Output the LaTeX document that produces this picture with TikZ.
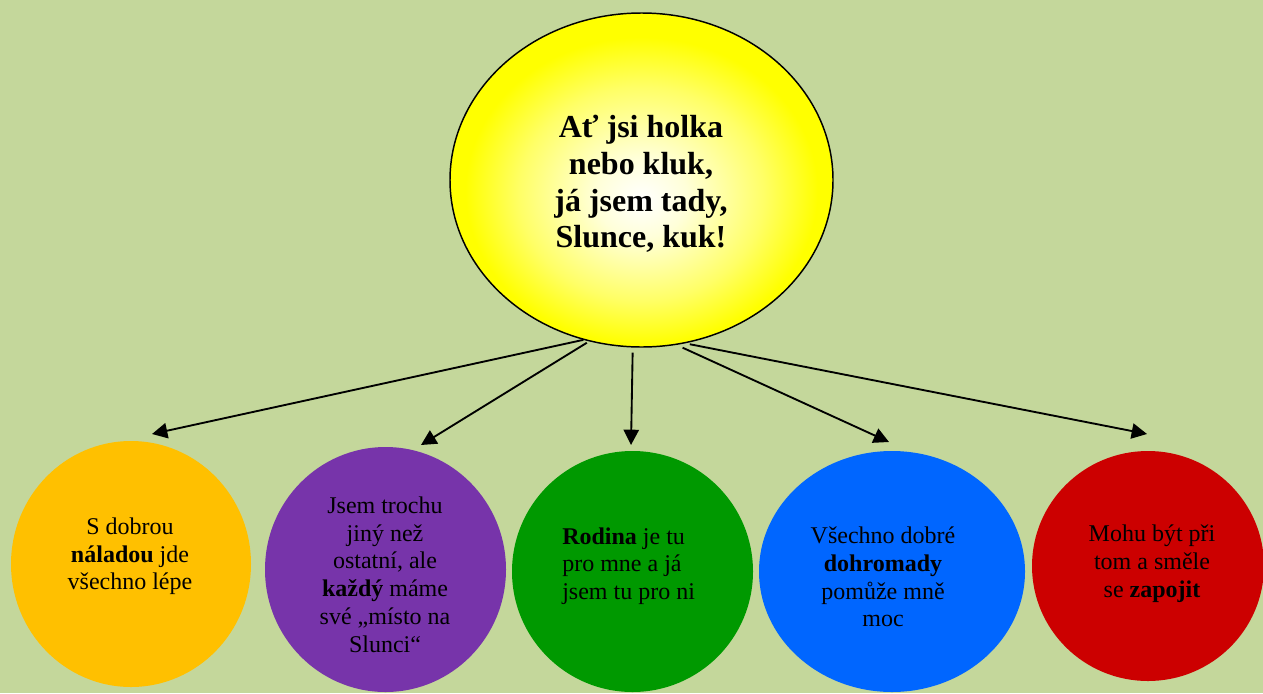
\documentclass[tikz,border=0pt]{standalone}
\usepackage{fontspec}
\setmainfont{Liberation Serif}
\usetikzlibrary{shapes.geometric,arrows.meta}
\definecolor{bgc}{HTML}{C4D79B}
\definecolor{corange}{HTML}{FFC000}
\definecolor{cpurple}{HTML}{7734AA}
\definecolor{cgreen}{HTML}{009900}
\definecolor{cblue}{HTML}{0066FF}
\definecolor{cred}{HTML}{CC0000}
\pgfdeclareradialshading{sunshade}{\pgfpoint{0bp}{-3bp}}{color(0bp)=(white); color(6bp)=(white!85!yellow); color(16bp)=(white!40!yellow); color(23bp)=(yellow); color(50bp)=(yellow)}
\begin{document}
\begin{tikzpicture}[x=0.75pt,y=-0.75pt,
  bubble/.style={ellipse, draw=none, inner sep=0pt},
  body/.style={font=\fontsize{18}{20.8}\selectfont, align=center, inner sep=0pt, text=black},
  arr/.style={line width=1.4pt, -{Triangle[length=11.5pt,width=11.5pt]}}]
\fill[bgc] (0,0) rectangle (1263,693);
\useasboundingbox (0,0) rectangle (1263,693);

\node[ellipse, draw, line width=1.1pt, shading=sunshade, minimum width=287.25pt, minimum height=250.5pt, inner sep=0pt] (sun) at (641.5,180) {};
\node[inner sep=0pt, align=center, font=\fontsize{24}{27.5}\selectfont\bfseries] (suntext) at (641,184) {Ať jsi holka\\nebo kluk,\\já jsem tady,\\Slunce, kuk!};

\node[bubble, fill=corange, minimum width=180pt, minimum height=184.5pt] (c1) at (131,564) {};
\node[bubble, fill=cpurple, minimum width=180.75pt, minimum height=183.75pt] (c2) at (385.5,569.5) {};
\node[bubble, fill=cgreen, minimum width=180.75pt, minimum height=180.75pt] (c3) at (632.5,571.5) {};
\node[bubble, fill=cblue, minimum width=199.5pt, minimum height=180.75pt] (c4) at (892,571.5) {};
\node[bubble, fill=cred, minimum width=174pt, minimum height=172.5pt] (c5) at (1148,566) {};

\node[body] (x1) at (130,556.3) {S dobrou\\\textbf{náladou} jde\\všechno lépe};
\node[body] (x2) at (385,574.5) {Jsem trochu\\jiný než\\ostatní, ale\\\textbf{každý} máme\\své „místo na\\Slunci“};
\node[body, align=left, anchor=west] (x3) at (562,566) {\textbf{Rodina} je tu\\pro mne a já\\jsem tu pro ni};
\node[body] (x4) at (883,577) {Všechno dobré\\\textbf{dohromady}\\pomůže mně\\moc};
\node[body] (x5) at (1152,563.6) {Mohu být při\\tom a směle\\se \textbf{zapojit}};

\coordinate (t1) at (152,434);
\coordinate (t2) at (421,445);
\coordinate (t3) at (631,445);
\coordinate (t4) at (889,442);
\coordinate (t5) at (1147,434);

\draw[arr] (sun.250) -- (t1);
\draw[arr, shorten <=2pt] (sun.252) -- (t2);
\draw[arr, shorten <=3.75pt] (sun.267) -- (t3);
\draw[arr, shorten <=5pt] (sun.282) -- (t4);
\draw[arr, shorten <=3.5pt] (sun.285) -- (t5);
\end{tikzpicture}
\end{document}
